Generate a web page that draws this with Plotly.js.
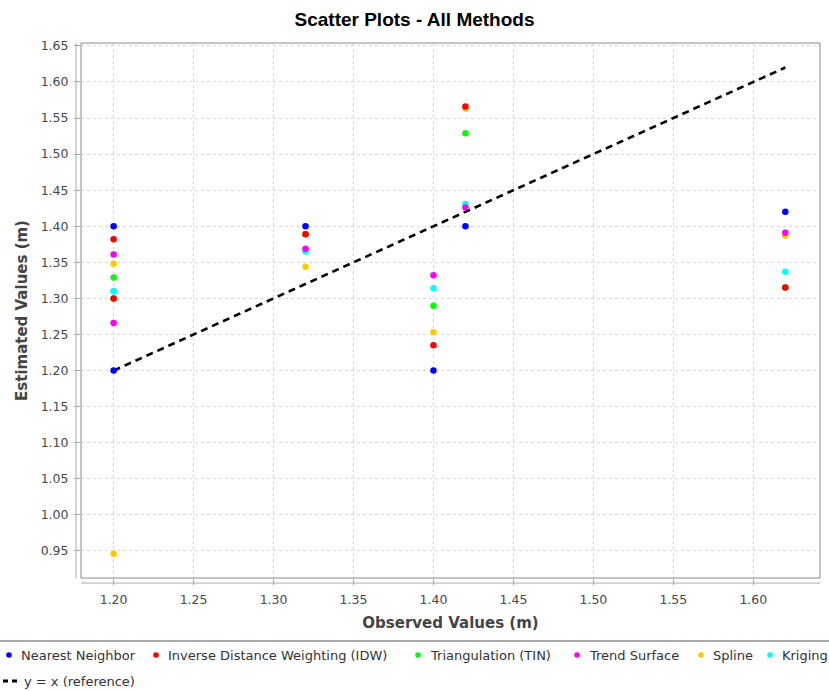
<!DOCTYPE html>
<html>
<head>
<meta charset="utf-8">
<script src="https://cdn.plot.ly/plotly-3.0.1.min.js"></script>
<style>
  html, body { margin: 0; padding: 0; background: #ffffff; }
  #chart { width: 829px; height: 691px; }
</style>
</head>
<body>
<div id="chart"></div>
<script>
// Observed water levels (m) at the validation points
const observed = [1.20, 1.20, 1.32, 1.40, 1.42, 1.62];

// Estimated values (m) from each interpolation method, same point order
const nearestNeighbor = [1.400, 1.200, 1.400, 1.200, 1.400, 1.420];
const idw             = [1.382, 1.300, 1.389, 1.235, 1.566, 1.315];
const tin             = [1.329, 1.300, 1.389, 1.290, 1.529, 1.315];
const trendSurface    = [1.361, 1.266, 1.369, 1.332, 1.426, 1.391];
const spline          = [1.348, 0.946, 1.344, 1.253, 1.563, 1.387];
const kriging         = [1.310, 1.310, 1.365, 1.314, 1.431, 1.337];

// 1:1 reference line end points
const referenceLine = [1.20, 1.62];

const methodNames = [
  "Nearest Neighbor",
  "Inverse Distance Weighting (IDW)",
  "Triangulation (TIN)",
  "Trend Surface",
  "Spline",
  "Kriging"
];
const methodValues = [nearestNeighbor, idw, tin, trendSurface, spline, kriging];
const methodColors = ["#0000ff", "#ff0000", "#00ff00", "#ff00ff", "#ffc800", "#00ffff"];
const referenceName = "y = x (reference)";

// plot area in pixels
const W = 829, H = 691;
const M = { l: 81, r: 9, t: 43, b: 113 };
const PW = W - M.l - M.r, PH = H - M.t - M.b;
const px = x => (x - M.l) / PW;          // page x -> paper x
const py = y => (H - M.b - y) / PH;      // page y -> paper y

const traces = [];
traces.push({
  x: referenceLine, y: referenceLine,
  type: "scatter", mode: "lines",
  name: referenceName, showlegend: false,
  line: { color: "#000000", width: 2.6, dash: "7px,5px" },
  hoverinfo: "skip"
});
// first series is painted last, so it sits on top
for (let i = methodNames.length - 1; i >= 0; i--) {
  traces.push({
    x: observed, y: methodValues[i],
    type: "scatter", mode: "markers",
    name: methodNames[i], showlegend: false,
    marker: { color: methodColors[i], size: 6.5, line: { width: 0 } }
  });
}

const tickFont = { family: "DejaVu Sans", size: 12.5, color: "#484848" };
const titleFont = { family: "DejaVu Sans", size: 15, color: "#444444", weight: "bold" };
const legendFont = { family: "DejaVu Sans", size: 13, color: "#333333" };

const shapes = [
  // plot outline
  { type: "rect", xref: "paper", yref: "paper", x0: 0, x1: 1, y0: 0, y1: 1,
    line: { color: "#8a8a8a", width: 1 }, layer: "above" },
  // offset axis lines
  { type: "line", xref: "paper", yref: "paper", x0: px(76), x1: px(76), y0: 0, y1: 1,
    line: { color: "#a8a8a8", width: 1 } },
  { type: "line", xref: "paper", yref: "paper", x0: 0, x1: 1, y0: py(583), y1: py(583),
    line: { color: "#a8a8a8", width: 1 } },
  // legend frame top
  { type: "line", xref: "paper", yref: "paper", x0: px(0), x1: px(829), y0: py(641), y1: py(641),
    line: { color: "#555555", width: 1 } }
];

const annotations = [];
// legend row 1: methods
const legendDotX = [9, 156, 418, 577, 701, 770];
const row1 = 655, row2 = 681;
methodNames.forEach((name, i) => {
  shapes.push({
    type: "circle", xref: "paper", yref: "paper",
    xsizemode: "pixel", ysizemode: "pixel",
    xanchor: px(legendDotX[i]), yanchor: py(row1),
    x0: -2.8, x1: 2.8, y0: -2.8, y1: 2.8,
    fillcolor: methodColors[i], line: { width: 0 }
  });
  annotations.push({
    xref: "paper", yref: "paper", x: px(legendDotX[i] + 10), y: py(row1),
    xanchor: "left", yanchor: "middle", showarrow: false,
    text: name, font: legendFont
  });
});
// legend row 2: reference line
shapes.push({
  type: "line", xref: "paper", yref: "paper",
  x0: px(3), x1: px(19), y0: py(row2), y1: py(row2),
  line: { color: "#000000", width: 3, dash: "5px,4px" }
});
annotations.push({
  xref: "paper", yref: "paper", x: px(22), y: py(row2),
  xanchor: "left", yanchor: "middle", showarrow: false,
  text: referenceName, font: legendFont
});

const layout = {
  width: W, height: H,
  margin: M,
  paper_bgcolor: "#ffffff",
  plot_bgcolor: "#ffffff",
  showlegend: false,
  title: {
    text: "Scatter Plots - All Methods",
    xref: "container", yref: "container",
    x: 0.5, xanchor: "center", y: 1 - 19 / H, yanchor: "middle",
    font: { family: "Liberation Sans", size: 19, color: "#000000", weight: "bold" }
  },
  xaxis: {
    range: [1.1796, 1.6417],
    tickvals: [1.20, 1.25, 1.30, 1.35, 1.40, 1.45, 1.50, 1.55, 1.60],
    tickformat: ".2f",
    ticks: "outside", ticklen: 6, tickcolor: "#a8a8a8", tickwidth: 1,
    ticklabelstandoff: 4,
    showgrid: true, gridcolor: "#dadada", gridwidth: 1, griddash: "3px,3px",
    zeroline: false, showline: false,
    tickfont: tickFont,
    title: { text: "Observed Values (m)", font: titleFont, standoff: 11 }
  },
  yaxis: {
    range: [0.9125, 1.654],
    dtick: 0.05, tick0: 0.95,
    tickformat: ".2f",
    ticks: "outside", ticklen: 6, tickcolor: "#a8a8a8", tickwidth: 1,
    ticklabelstandoff: 3,
    showgrid: true, gridcolor: "#dadada", gridwidth: 1, griddash: "3px,3px",
    zeroline: false, showline: false,
    tickfont: tickFont,
    title: { text: "Estimated Values (m)", font: titleFont, standoff: 9 }
  },
  shapes: shapes,
  annotations: annotations
};

Plotly.newPlot("chart", traces, layout, { displayModeBar: false, staticPlot: true });
</script>
</body>
</html>
